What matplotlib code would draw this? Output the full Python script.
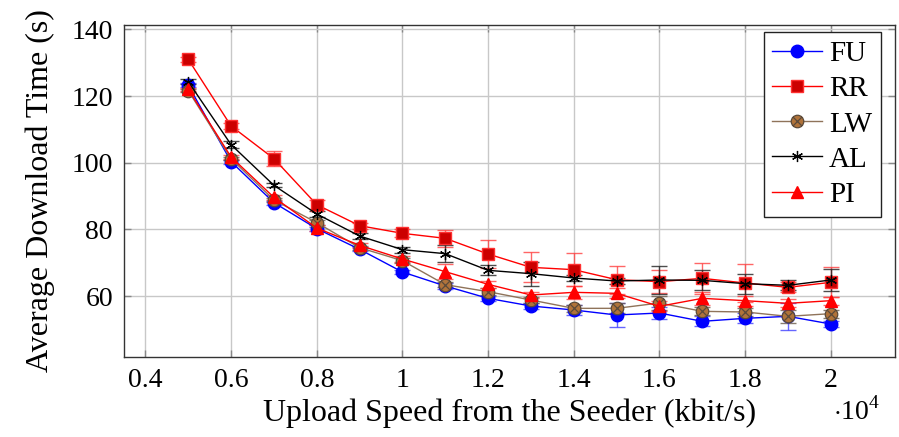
import matplotlib
matplotlib.use("Agg")
import matplotlib.pyplot as plt
from matplotlib.path import Path
import numpy as np

x = [0.5, 0.6, 0.7, 0.8, 0.9, 1.0, 1.1, 1.2, 1.3, 1.4, 1.5, 1.6, 1.7, 1.8, 1.9, 2.0]

fu = [123.2, 100.3, 88.0, 80.2, 74.0, 67.2, 63.0, 59.3, 57.0, 55.8, 54.3, 54.9, 52.4, 53.3, 53.9, 51.6]
rr = [131.0, 111.0, 101.2, 87.4, 81.1, 78.8, 77.3, 72.6, 68.6, 67.9, 64.9, 64.3, 65.3, 63.9, 62.6, 64.1]
lw = [121.6, 101.2, 88.8, 82.0, 74.5, 70.6, 63.4, 61.3, 58.8, 56.3, 56.3, 57.9, 55.4, 55.2, 53.9, 54.7]
al = [124.3, 105.4, 93.2, 84.6, 78.0, 73.9, 72.7, 67.7, 66.7, 65.4, 64.5, 64.8, 64.7, 63.7, 63.2, 64.8]
pi = [122.0, 101.7, 89.6, 80.4, 75.2, 71.1, 67.3, 63.5, 60.3, 61.1, 60.8, 56.9, 59.3, 58.6, 57.8, 58.6]

fu_err = [0.6, 0.6, 0.6, 0.6, 0.6, 0.6, 0.8, 0.8, 1.0, 1.5, 3.7, 1.9, 1.5, 1.5, 4.0, 1.0]
rr_err = [0.8, 0.8, 2.2, 1.3, 0.9, 1.2, 2.5, 4.2, 4.5, 5.0, 4.2, 3.5, 4.6, 5.7, 1.5, 4.5]
lw_err = [0.5, 0.5, 0.6, 0.8, 0.6, 0.7, 0.8, 1.0, 1.0, 1.0, 1.5, 2.0, 1.2, 1.2, 2.0, 1.2]
al_err = [0.8, 1.0, 0.6, 0.8, 0.8, 0.9, 2.5, 1.5, 3.6, 1.0, 1.0, 4.2, 3.0, 3.0, 1.5, 3.4]
pi_err = [0.5, 0.6, 0.8, 0.8, 0.7, 1.0, 2.3, 1.0, 1.0, 2.0, 1.5, 1.5, 2.0, 1.5, 1.2, 1.2]

xticks = [0.4, 0.6, 0.8, 1.0, 1.2, 1.4, 1.6, 1.8, 2.0]
xticklabels = ["0.4", "0.6", "0.8", "1", "1.2", "1.4", "1.6", "1.8", "2"]
yticks = [60, 80, 100, 120, 140]

plt.rcParams['font.family'] = ['Liberation Serif', 'DejaVu Serif']
plt.rcParams['mathtext.fontset'] = 'custom'
plt.rcParams['mathtext.rm'] = 'Liberation Serif'

fig = plt.figure(figsize=(8.99, 4.37), dpi=100)
ax = fig.add_axes([124/899, 1-357/437, (895-124)/899, (357-25)/437])

otimes = Path.make_compound_path(
    Path.unit_circle(),
    Path([(-0.707, -0.707), (0.707, 0.707)], [Path.MOVETO, Path.LINETO]),
    Path([(-0.707, 0.707), (0.707, -0.707)], [Path.MOVETO, Path.LINETO]),
)

brown = '#8f735a'
series = [
    ("FU", fu, fu_err, dict(color='#0000ff', marker='o', ms=9, mfc='#0000ff', mec='#0000ff'), '#4040ff'),
    ("RR", rr, rr_err, dict(color='#ff0000', marker='s', ms=9, mfc='#cc0000', mec='#ff3030'), '#ff4040'),
    ("LW", lw, lw_err, dict(color=brown, marker=otimes, ms=9, mfc='#b0733a', mec='#5a4a3a', mew=0.9), '#6b5a4a'),
    ("AL", al, al_err, dict(color='#000000', marker=(6, 2, 0), ms=8, mfc='k', mec='k', mew=0.9), '#202020'),
    ("PI", pi, pi_err, dict(color='#ff0000', marker='^', ms=9, mfc='#ff0000', mec='#ff0000'), '#ff4040'),
]

handles = []
for name, vals, err, style, ecol in series:
    ax.errorbar(x, vals, yerr=err, fmt='none', ecolor=ecol, elinewidth=1.0,
                capsize=6, capthick=1.0, alpha=0.8, zorder=2)
    h, = ax.plot(x, vals, lw=1.0, zorder=3, label=name, **style)
    handles.append(h)

ax.set_xlim(0.35, 2.15)
ax.set_ylim(41.7, 141.3)
ax.set_xticks(xticks)
ax.set_xticklabels(xticklabels)
ax.set_yticks(yticks)
ax.grid(True, color='#c8c8c8', lw=1.0)
ax.set_axisbelow(True)
ax.tick_params(direction='in', length=5, width=1, color='#888888', top=True, right=True,
               labelsize=20, pad=8)
for s in ax.spines.values():
    s.set_color('#333333')
    s.set_linewidth(1.0)

ax.set_xlabel("Upload Speed from the Seeder (kbit/s)", fontsize=23, labelpad=4)
ax.set_ylabel("Average Download Time (s)", fontsize=23, labelpad=12)
fig.text(857/899, 1-411/437, r"$\cdot 10^4$", fontsize=20, ha='center', va='center')

leg = ax.legend(handles=handles, loc='upper right', bbox_to_anchor=(757/771, 1-7/332),
                fontsize=21, frameon=True, fancybox=False,
                edgecolor='#222222', framealpha=1, handlelength=1.7, handletextpad=0.25,
                borderpad=0.3, labelspacing=0.3, borderaxespad=0.0)
leg.get_frame().set_linewidth(1.0)

fig.savefig("out.png", dpi=100)
